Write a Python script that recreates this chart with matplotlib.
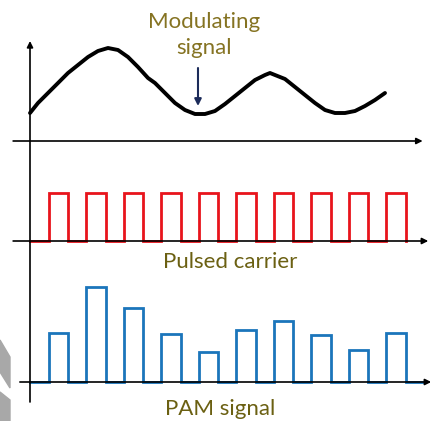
import matplotlib
matplotlib.use("Agg")
import matplotlib.pyplot as plt
from matplotlib.patches import Polygon
import numpy as np

# modulating signal (time in carrier periods, height above its axis)
sig_t = [0, 0.213, 0.48, 0.747, 1.013, 1.28, 1.547, 1.813, 2.08, 2.347, 2.613,
         2.88, 3.147, 3.333, 3.6, 3.867, 4.133, 4.4, 4.667, 4.933, 5.2, 5.467,
         5.733, 6.0, 6.267, 6.4, 6.533, 6.8, 7.067, 7.333, 7.6, 7.867, 8.133,
         8.4, 8.667, 8.933, 9.2, 9.467]
sig_v = [28, 38, 48, 58, 68, 76, 84, 90, 93, 91, 84,
         74, 63, 58, 48, 38, 31, 27, 27, 30, 37, 45,
         53, 61, 66, 68, 66, 62, 54, 46, 38, 31, 28,
         28, 30, 35, 41, 48]

# pulsed carrier and PAM pulses
pulse_start = [0.5, 1.5, 2.5, 3.5, 4.5, 5.5, 6.5, 7.5, 8.5, 9.5]
pulse_width = 0.52
carrier_amp = 48
pam_amp = [49, 95, 74, 48, 30, 52, 61, 47, 32, 49]

labels = ["Modulating\nsignal", "Pulsed carrier", "PAM signal"]

base_sig, base_car, base_pam = 280, 180, 39


def pulse_train(starts, width, amps, t0):
    xs, ys = [t0], [0]
    for s, a in zip(starts, amps):
        xs += [s, s, s + width, s + width]
        ys += [0, a, a, 0]
    return np.array(xs), np.array(ys)


fig = plt.figure(figsize=(4.30, 4.21), dpi=100)
ax = fig.add_axes([0, 0, 1, 1])
ax.set_xlim(-0.8, 10.667)
ax.set_ylim(0, 421)
ax.axis("off")

# grey shapes on the left edge
fig.patches.append(Polygon([[0, 81], [10, 64], [10, 33], [0, 49]],
                           closed=True, transform=None, color="#a8a8a8", zorder=0))
fig.patches.append(Polygon([[0, 29], [10, 21], [10, 0], [0, 0]],
                           closed=True, transform=None, color="#a8a8a8", zorder=0))

ax_kw = dict(arrowstyle="-|>", color="black", lw=1.2, mutation_scale=9,
             shrinkA=0, shrinkB=0)

# axes lines
ax.annotate("", xy=(0, 380), xytext=(0, 19), arrowprops=ax_kw)
ax.annotate("", xy=(10.47, base_sig), xytext=(-0.45, base_sig), arrowprops=ax_kw)
ax.annotate("", xy=(10.62, base_car), xytext=(-0.45, base_car), arrowprops=ax_kw)
ax.annotate("", xy=(10.70, base_pam), xytext=(-0.27, base_pam), arrowprops=ax_kw,
            annotation_clip=False)

# modulating signal
ax.plot(sig_t, np.array(sig_v) + base_sig, color="black", lw=2.8,
        solid_capstyle="round", solid_joinstyle="round")

# carrier
cx, cy = pulse_train(pulse_start, pulse_width, [carrier_amp] * len(pulse_start), 0)
ax.plot(cx, cy + base_car, color="#e8141c", lw=2.0, solid_joinstyle="miter")

# PAM
px, py = pulse_train(pulse_start, pulse_width, pam_amp, 0)
px = np.append(px, 10.45)
py = np.append(py, 0)
ax.plot(px, py + base_pam, color="#1b75bb", lw=2.0, solid_joinstyle="miter")

# labels
ax.text(4.64, 386, labels[0], ha="center", va="center", fontsize=16,
        family="Lato", color="#857322", linespacing=1.35)
ax.annotate("", xy=(4.48, 315), xytext=(4.48, 353),
            arrowprops=dict(arrowstyle="-|>", color="#1c2b5a", lw=1.5,
                            mutation_scale=10, shrinkA=0, shrinkB=0))
ax.text(5.33, 159, labels[1], ha="center", va="center", fontsize=16,
        family="Lato", color="#6b6012")
ax.text(5.07, 12, labels[2], ha="center", va="center", fontsize=16,
        family="Lato", color="#6b6012")

fig.savefig("out.png", dpi=100)
